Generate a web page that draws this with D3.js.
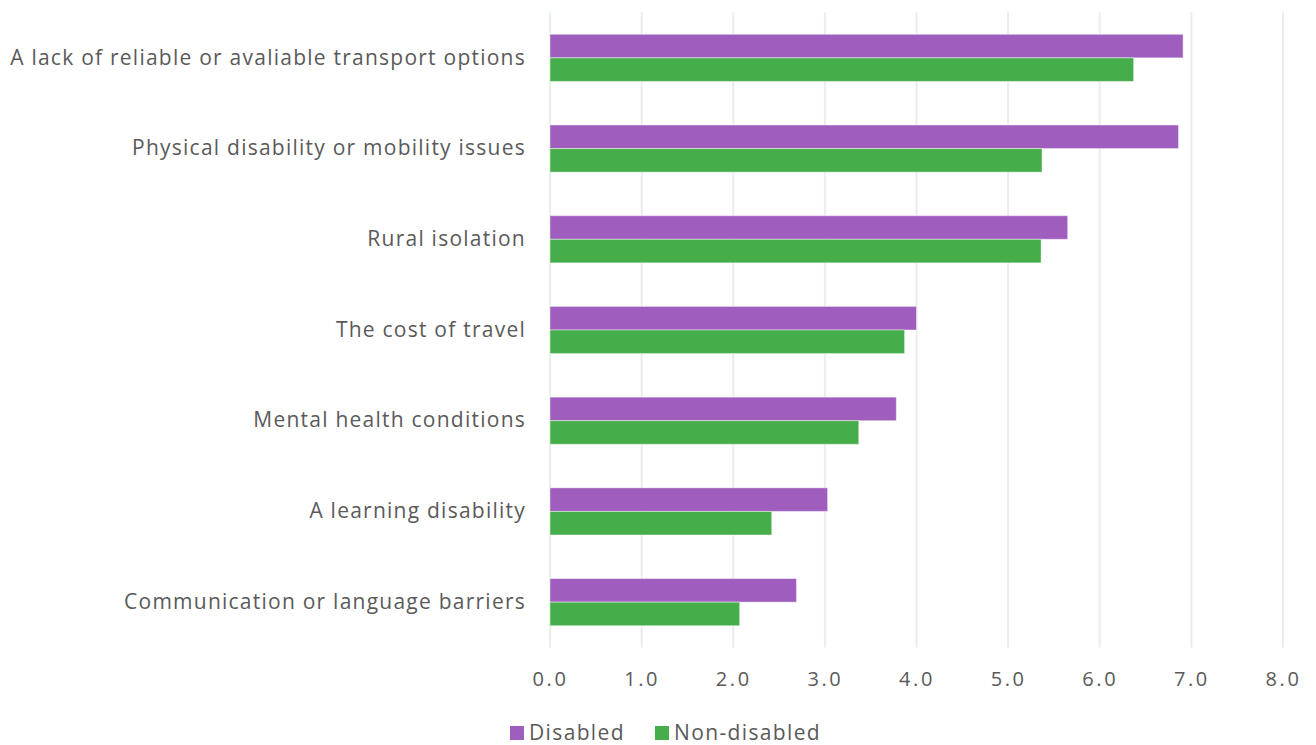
<!DOCTYPE html>
<html>
<head>
<meta charset="utf-8">
<script src="https://cdn.jsdelivr.net/npm/d3@7"></script>
<style>
  html, body { margin: 0; padding: 0; background: #fff; }
  svg { display: block; font-family: "Open Sans", "Lato", sans-serif; }
</style>
</head>
<body>
<svg id="chart" width="1316" height="745"></svg>
<script>
// Barriers to travel, average score by group
const categories = [
  "A lack of reliable or avaliable transport options",
  "Physical disability or mobility issues",
  "Rural isolation",
  "The cost of travel",
  "Mental health conditions",
  "A learning disability",
  "Communication or language barriers"
];
const seriesNames = ["Disabled", "Non-disabled"];
const disabled    = [6.91, 6.86, 5.65, 4.00, 3.78, 3.03, 2.69];
const nonDisabled = [6.37, 5.37, 5.36, 3.87, 3.37, 2.42, 2.07];
const tickValues  = [0, 1, 2, 3, 4, 5, 6, 7, 8];
const colors = ["#9f5dbe", "#46ad4b"];
const textColor = "#5a5a5a";

const svg = d3.select("#chart");
const margin = { left: 550, right: 33, top: 12.5, bottom: 97.5 };
const W = 1316, H = 745;

const x = d3.scaleLinear().domain([0, 8]).range([margin.left, W - margin.right]);
const y = d3.scaleBand().domain(categories).range([margin.top, H - margin.bottom]).paddingInner(0.48).paddingOuter(0.24);
const ySub = d3.scaleBand().domain(seriesNames).range([0, y.bandwidth()]);

// spread letters of a text selection so that a given element reaches a target width
function spread(sel, refNode, target) {
  const w = refNode.getComputedTextLength();
  const n = refNode.textContent.length;
  const ls = Math.max(0, (target - w) / n);
  sel.attr("letter-spacing", ls.toFixed(2));
}

// vertical gridlines
svg.append("g").selectAll("line").data(tickValues).join("line")
  .attr("x1", d => x(d)).attr("x2", d => x(d))
  .attr("y1", margin.top).attr("y2", H - margin.bottom)
  .attr("stroke", d => d === 0 ? "#e3f2e3" : "#ececec")
  .attr("stroke-width", 2);

// bars
const rows = categories.map((c, i) => ({ c, vals: [disabled[i], nonDisabled[i]] }));
const g = svg.append("g").selectAll("g").data(rows).join("g")
  .attr("transform", d => `translate(0,${y(d.c)})`);
g.selectAll("rect").data(d => d.vals.map((v, j) => ({ v, s: seriesNames[j], j }))).join("rect")
  .attr("x", x(0))
  .attr("y", d => ySub(d.s))
  .attr("width", d => x(d.v) - x(0))
  .attr("height", ySub.bandwidth())
  .attr("fill", d => colors[d.j])
  .attr("stroke", "#ffffff").attr("stroke-opacity", 0.45).attr("stroke-width", 1);

// category labels
const yAxis = d3.axisLeft(y).tickSize(0).tickPadding(24);
const ya = svg.append("g").attr("transform", `translate(${margin.left},0)`).call(yAxis);
ya.select(".domain").remove();
const yText = ya.selectAll("text").attr("font-size", 21).attr("fill", textColor)
  .attr("font-family", "'Open Sans', Lato, sans-serif");
spread(yText, yText.nodes()[0], 516);

// x axis
const xAxis = d3.axisBottom(x).tickValues(tickValues).tickFormat(d3.format(".1f")).tickSize(0).tickPadding(24);
const xa = svg.append("g").attr("transform", `translate(0,${H - margin.bottom})`).call(xAxis);
xa.select(".domain").remove();
const xText = xa.selectAll("text").attr("font-size", 20).attr("fill", textColor)
  .attr("font-family", "'Open Sans', Lato, sans-serif");
spread(xText, xText.nodes()[0], 36);

// legend
const legendY = 733;
const legendItems = [{ name: seriesNames[0], x: 510 }, { name: seriesNames[1], x: 655 }];
const lg = svg.append("g").selectAll("g").data(legendItems).join("g")
  .attr("transform", d => `translate(${d.x},${legendY})`);
lg.append("rect").attr("x", 0).attr("y", -7).attr("width", 14).attr("height", 14)
  .attr("fill", (d, i) => colors[i]);
const lText = lg.append("text").attr("x", 19).attr("dy", "0.35em").text(d => d.name)
  .attr("font-size", 21).attr("fill", textColor);
spread(lText, lText.nodes()[1], 147);
</script>
</body>
</html>
